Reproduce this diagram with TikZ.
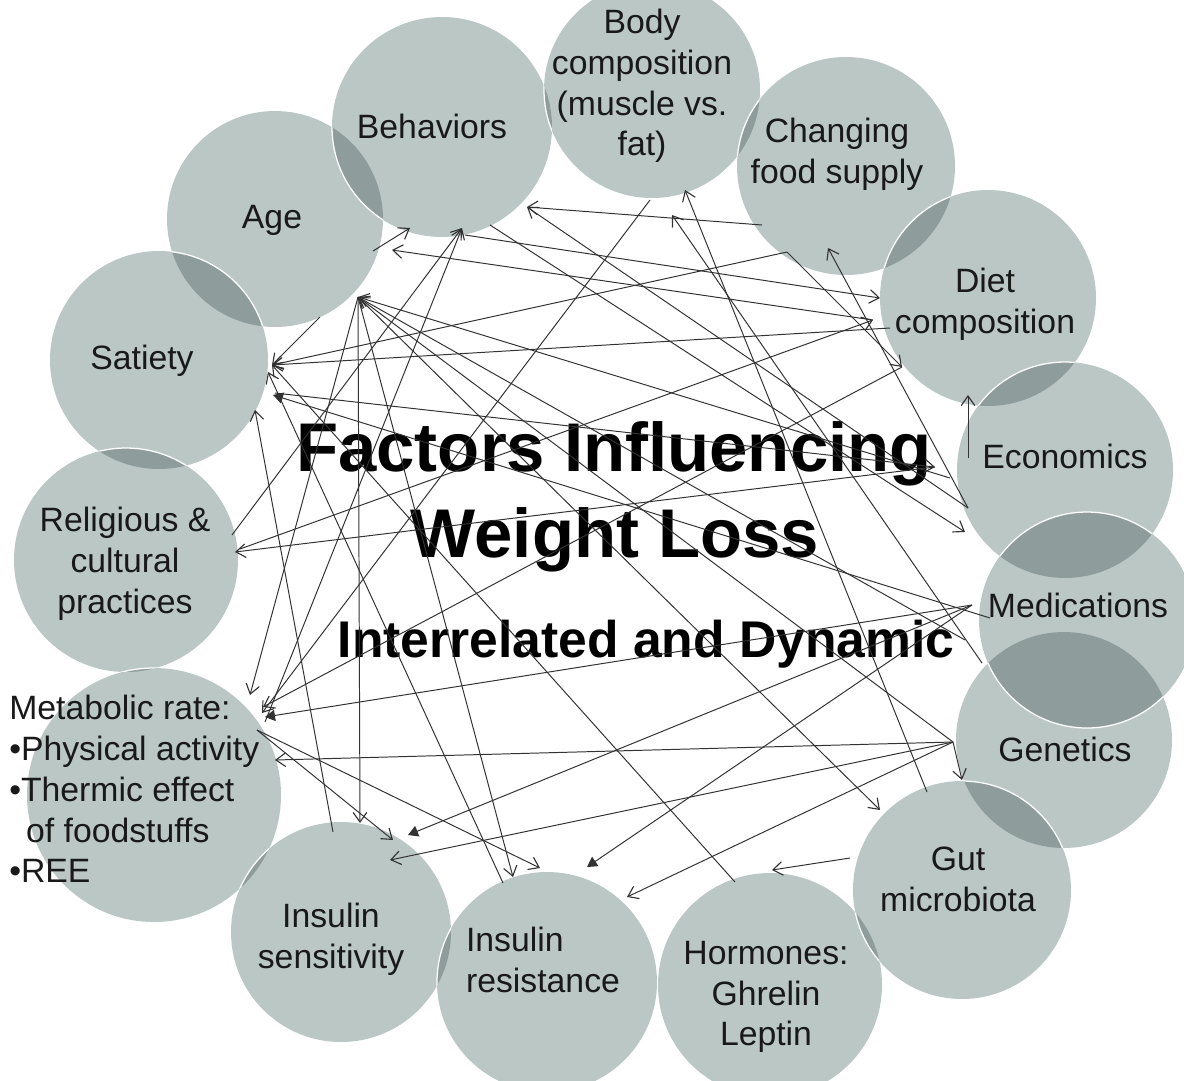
\documentclass[tikz,border=0pt]{standalone}
\usepackage{fontspec}
\setmainfont{Liberation Sans}
\usetikzlibrary{arrows.meta}
\definecolor{circA}{RGB}{186,199,197}
\definecolor{circB}{RGB}{142,157,155}
\definecolor{lnc}{RGB}{50,50,50}
\definecolor{txt}{RGB}{25,25,25}
\newcommand\lensAB[4]{\begin{scope}\clip (#1) circle (#2);\fill[circB] (#3) circle (#4);\draw[rim] (#3) circle (#4);\end{scope}}
\begin{document}
\begin{tikzpicture}[x=0.025cm,y=-0.025cm,
  rim/.style={draw=white,line width=0.9pt},
  lbl/.style={inner sep=0pt,text=txt,font=\fontsize{24}{29}\selectfont,align=center},
  arr/.style={draw=lnc,line width=0.7pt,-{Straight Barb[length=0.24cm,width=0.34cm,line width=0.8pt]}},
  arrf/.style={draw=lnc,line width=0.7pt,-{Triangle[length=0.25cm,width=0.28cm]}},
  ttl/.style={inner sep=0pt,anchor=base,font=\fontsize{49}{59}\selectfont\bfseries},
  sub/.style={inner sep=0pt,anchor=base,font=\fontsize{36.7}{44}\selectfont\bfseries}]
\useasboundingbox (0,0) rectangle (1184,1080);
\clip (0,0) rectangle (1184,1080);
% circle centres
\coordinate (Cbody) at (652,90);
\coordinate (Cbeh) at (442,127);
\coordinate (Cage) at (275,219);
\coordinate (Csat) at (159,360);
\coordinate (Crel) at (126,560);
\coordinate (Cmet) at (154,795);
\coordinate (Cinss) at (341,932);
\coordinate (Cinsr) at (547,982);
\coordinate (Chorm) at (770,985);
\coordinate (Cgut) at (962,890);
\coordinate (Cgen) at (1064,740);
\coordinate (Cmed) at (1087,620);
\coordinate (Ceco) at (1065,470);
\coordinate (Cdiet) at (988,298);
\coordinate (Ccfs) at (846,166);
% circles
\fill[circA] (Cbody) circle (108);
\fill[circA] (Cbeh) circle (110);
\fill[circA] (Cage) circle (108);
\fill[circA] (Csat) circle (109);
\fill[circA] (Crel) circle (112);
\fill[circA] (Cmet) circle (127);
\fill[circA] (Cinss) circle (110);
\fill[circA] (Cinsr) circle (110);
\fill[circA] (Chorm) circle (112);
\fill[circA] (Cgut) circle (109);
\fill[circA] (Cgen) circle (108);
\fill[circA] (Cmed) circle (108);
\fill[circA] (Ceco) circle (108);
\fill[circA] (Cdiet) circle (108);
\fill[circA] (Ccfs) circle (109);
% overlaps
\lensAB{Cbeh}{110}{Cbody}{108}
\lensAB{Cbody}{108}{Ccfs}{109}
\lensAB{Ccfs}{109}{Cdiet}{108}
\lensAB{Cdiet}{108}{Ceco}{108}
\lensAB{Ceco}{108}{Cmed}{108}
\lensAB{Cgen}{108}{Cmed}{108}
\lensAB{Cgen}{108}{Cgut}{109}
\lensAB{Chorm}{112}{Cgut}{109}
\lensAB{Cinss}{110}{Cinsr}{110}
\lensAB{Cmet}{127}{Cinss}{110}
\lensAB{Crel}{112}{Cmet}{127}
\lensAB{Csat}{109}{Crel}{112}
\lensAB{Cage}{108}{Csat}{109}
\lensAB{Cage}{108}{Cbeh}{110}
% labels
\node[lbl] (body) at (642,86) {Body\\composition\\(muscle vs.\\fat)};
\node[lbl] (beh) at (432,126) {Behaviors};
\node[lbl] (cfs) at (837,154) {Changing\\food supply};
\node[lbl] (age) at (272,220) {Age};
\node[lbl] (diet) at (985,304) {Diet\\composition};
\node[lbl] (sat) at (142,361) {Satiety};
\node[lbl] (eco) at (1065,456) {Economics};
\node[lbl] (med) at (1078,605) {Medications};
\node[lbl] (gen) at (1065,749) {Genetics};
\node[lbl] (rel) at (125,564) {Religious \&\\cultural\\practices};
\node[lbl,align=left,anchor=north west] (met) at (9,695) {Metabolic rate:\\\textbullet Physical activity\\\textbullet Thermic effect\\\hspace*{0.5em}of foodstuffs\\\textbullet REE};
\node[lbl] (gut) at (958,879) {Gut\\microbiota};
\node[lbl] (inss) at (331,939) {Insulin\\sensitivity};
\node[lbl,align=left] (insr) at (543,960) {Insulin\\resistance};
\node[lbl] (horm) at (766,997) {Hormones:\\Ghrelin\\Leptin};
% titles
\node[ttl] (t1) at (614,471) {Factors Influencing};
\node[ttl] (t2) at (615,557) {Weight Loss};
\node[sub] (t3) at (646,657) {Interrelated and Dynamic};
% connector end points
\coordinate (ageS) at (373,251);
\coordinate (ageT) at (392,250);
\coordinate (ageH) at (358,297);
\coordinate (ageL) at (320,317);
\coordinate (behT) at (410,228);
\coordinate (behH) at (462,228);
\coordinate (behR) at (527,207);
\coordinate (behS) at (490,225);
\coordinate (behD) at (465,235);
\coordinate (bodyS) at (650,200);
\coordinate (bodyT1) at (685,190);
\coordinate (bodyT2) at (672,215);
\coordinate (cfsS) at (762,225);
\coordinate (cfsT) at (828,248);
\coordinate (cfsH) at (787,252);
\coordinate (dietT1) at (880,298);
\coordinate (dietT2) at (873,320);
\coordinate (dietS) at (890,328);
\coordinate (dietT3) at (902,367);
\coordinate (dietB) at (968,395);
\coordinate (ecoS1) at (968,458);
\coordinate (ecoT) at (935,467);
\coordinate (ecoS2) at (968,508);
\coordinate (ecoS3) at (950,478);
\coordinate (medT) at (965,532);
\coordinate (medH) at (972,605);
\coordinate (medS) at (990,618);
\coordinate (medS2) at (965,640);
\coordinate (genH) at (953,742);
\coordinate (genS) at (982,663);
\coordinate (gutT) at (880,810);
\coordinate (gutT2) at (962,780);
\coordinate (gutS) at (927,792);
\coordinate (gutS2) at (850,858);
\coordinate (hormT) at (772,870);
\coordinate (hormS) at (735,882);
\coordinate (insrS) at (503,883);
\coordinate (insrT1) at (513,877);
\coordinate (insrT2) at (540,868);
\coordinate (insrT3) at (587,867);
\coordinate (insrT4) at (627,897);
\coordinate (inssS) at (333,832);
\coordinate (inssT1) at (360,823);
\coordinate (inssT2) at (393,840);
\coordinate (inssT3) at (408,835);
\coordinate (inssT4) at (390,860);
\coordinate (metH) at (262,713);
\coordinate (metS) at (257,730);
\coordinate (metT1) at (250,695);
\coordinate (metT2) at (265,717);
\coordinate (metT3) at (275,760);
\coordinate (metT4) at (263,707);
\coordinate (metS2) at (265,722);
\coordinate (satH) at (272,365);
\coordinate (satT2) at (273,395);
\coordinate (satT3) at (255,410);
\coordinate (satT4) at (268,372);
\coordinate (satS) at (275,393);
\coordinate (relT) at (235,552);
\coordinate (relS) at (232,535);
\coordinate (relS2) at (240,549);
% connectors
\draw[arr] (ageS) -- (behT);
\draw[arr] (dietT2) -- (ageT);
\draw[arr] (cfsS) -- (behR);
\draw[arr] (ecoS2) -- (behR);
\draw[arr] (relS) -- (behH);
\draw[arr] (metS2) -- (behH);
\draw[arr] (bodyS) -- (metH);
\draw[arr] (gutS) -- (bodyT1);
\draw[arr] (genS) -- (bodyT2);
\draw[arr] (ecoS2) -- (cfsT);
\draw[arr] (cfsH) -- (dietT3);
\draw[arr] (cfsH) -- (satH);
\draw[arr] (behD) -- (dietT1);
\draw[arr] (relS2) -- (dietT2);
\draw[arr] (ecoT) -- (relT);
\draw[arr] (satS) -- (ecoT);
\draw[arrf] (medS) -- (satT2);
\draw[arr] (ecoS1) -- (dietB);
\draw[arr] (ecoS3) -- (ageH);
\draw[arr] (medS2) -- (ageH);
\draw[arr] (genH) -- (ageH);
\draw[arr] (behS) -- (medT);
\draw[arr] (ageH) -- (inssT1);
\draw[arr] (ageH) -- (insrT1);
\draw[arr] (ageH) -- (metT1);
\draw[arr] (ageH) -- (gutT);
\draw[arr] (genH) -- (gutT2);
\draw[arr] (gutS2) -- (hormT);
\draw[arr] (hormS) -- (satH);
\draw[arr] (inssS) -- (satT3);
\draw[arr] (insrS) -- (satT4);
\draw[arr] (ageL) -- (satH);
\draw[arr] (metS) -- (inssT2);
\draw[arr] (metS) -- (insrT2);
\draw[arrf] (medH) -- (inssT3);
\draw[arr] (genH) -- (inssT4);
\draw[arr] (genH) -- (insrT4);
\draw[arrf] (medH) -- (insrT3);
\draw[arrf] (medH) -- (metT2);
\draw[arr] (genH) -- (metT3);
\draw[arr] (dietS) -- (satH);
\draw[arr] (dietT3) -- (metT4);
\end{tikzpicture}
\end{document}
